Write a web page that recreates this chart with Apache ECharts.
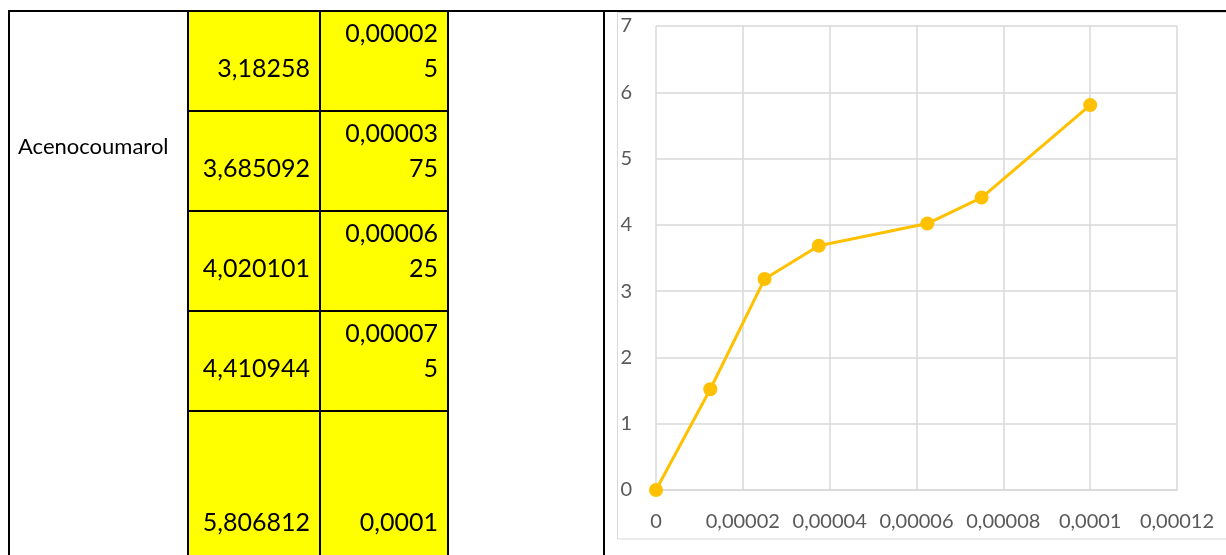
<!DOCTYPE html>
<html>
<head>
<meta charset="utf-8">
<script src="https://cdn.jsdelivr.net/npm/echarts@6/dist/echarts.min.js"></script>
<style>
  html, body { margin: 0; padding: 0; background: #fff; }
  #chart { width: 1226px; height: 555px; }
</style>
</head>
<body>
<div id="chart"></div>
<script>
// Dose-response data for one compound
const compoundName = 'Acenocoumarol';
const concentration = [0, 0.0000125, 0.000025, 0.0000375, 0.0000625, 0.000075, 0.0001];
const response = [0, 1.52, 3.18258, 3.685092, 4.020101, 4.410944, 5.806812];
// spreadsheet rows visible beside the chart start at this data index
const firstSheetRow = 2;

// decimal comma, as in the sheet
function fmt(v) {
  return String(v).replace('.', ',');
}
function fmtTick(v) {
  return String(parseFloat(Number(v).toPrecision(8))).replace('.', ',');
}

// ---- sheet layout ----
const sheetTop = 11;
const colX = [9, 188, 320, 448, 604];
const rowHeights = [100, 100, 100, 100, 154];
const lineGap = 35.5;
const FONT_CELL = '25px Lato';

const graphics = [];

// yellow cells
graphics.push({
  type: 'rect', z: 0,
  shape: { x: colX[1], y: sheetTop, width: colX[3] - colX[1], height: 555 - sheetTop },
  style: { fill: '#FFFF00' }
});

// chart area frame
graphics.push({
  type: 'rect', z: 0,
  shape: { x: 617.5, y: 12.5, width: 700, height: 526.5 },
  style: { fill: 'none', stroke: '#D9D9D9', lineWidth: 1 }
});

// cell texts
const nRows = concentration.length - firstSheetRow;
let rowTop = sheetTop;
for (let r = 0; r < nRows; r++) {
  const i = firstSheetRow + r;
  const bottomLineY = rowTop + rowHeights[r] - 42;
  // response column, single line
  graphics.push({
    type: 'text', z: 5, x: colX[2] - 10, y: bottomLineY,
    style: { text: fmt(response[i]), font: FONT_CELL, fill: '#000', textAlign: 'right', textVerticalAlign: 'middle' }
  });
  // concentration column, wrapped at 7 characters
  const parts = fmt(concentration[i]).match(/.{1,7}/g);
  parts.forEach(function (p, k) {
    graphics.push({
      type: 'text', z: 5, x: colX[3] - 10, y: bottomLineY - (parts.length - 1 - k) * lineGap,
      style: { text: p, font: FONT_CELL, fill: '#000', textAlign: 'right', textVerticalAlign: 'middle' }
    });
  });
  // row separators inside the yellow block
  if (r < nRows - 1) {
    graphics.push({
      type: 'line', z: 6,
      shape: { x1: colX[1], y1: rowTop + rowHeights[r], x2: colX[3], y2: rowTop + rowHeights[r] },
      style: { stroke: '#000', lineWidth: 2 }
    });
  }
  rowTop += rowHeights[r];
}

// compound name in the merged cell
graphics.push({
  type: 'text', z: 5, x: 18, y: 147,
  style: { text: compoundName, font: '22px Lato', fill: '#000', textAlign: 'left', textVerticalAlign: 'middle' }
});

// sheet borders
graphics.push({
  type: 'line', z: 6,
  shape: { x1: colX[0] - 1, y1: sheetTop, x2: 1226, y2: sheetTop },
  style: { stroke: '#000', lineWidth: 2 }
});
colX.forEach(function (x) {
  graphics.push({
    type: 'line', z: 6,
    shape: { x1: x, y1: sheetTop, x2: x, y2: 555 },
    style: { stroke: '#000', lineWidth: 2 }
  });
});

const chart = echarts.init(document.getElementById('chart'));
chart.setOption({
  animation: false,
  backgroundColor: '#fff',
  graphic: { elements: graphics },
  grid: { left: 656, top: 26, right: 49, bottom: 65, containLabel: false },
  xAxis: {
    type: 'value', min: 0, max: 0.00012, interval: 0.00002,
    axisLine: { show: true, lineStyle: { color: '#D9D9D9', width: 1.5 } },
    axisTick: { show: false },
    splitLine: { show: true, lineStyle: { color: '#D9D9D9', width: 1.5 } },
    axisLabel: { color: '#595959', fontFamily: 'Lato', fontSize: 20, margin: 22, formatter: fmtTick }
  },
  yAxis: {
    type: 'value', min: 0, max: 7, interval: 1,
    axisLine: { show: false },
    axisTick: { show: false },
    splitLine: { show: true, lineStyle: { color: '#D9D9D9', width: 1.5 } },
    axisLabel: { color: '#595959', fontFamily: 'Lato', fontSize: 20, margin: 24 }
  },
  series: [{
    type: 'line',
    data: concentration.map(function (c, i) { return [c, response[i]]; }),
    symbol: 'circle', symbolSize: 14, showAllSymbol: true,
    lineStyle: { color: '#FFC000', width: 3 },
    itemStyle: { color: '#FFC000' },
    z: 3
  }]
});
</script>
</body>
</html>
